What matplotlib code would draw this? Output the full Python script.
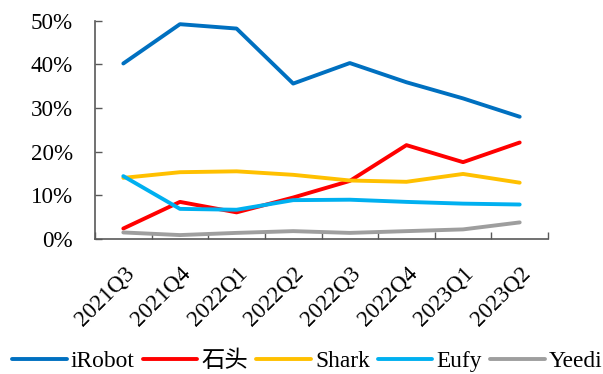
import matplotlib
matplotlib.use("Agg")
import matplotlib.pyplot as plt
import numpy as np
from matplotlib.ticker import FuncFormatter

quarters = ["2021Q3", "2021Q4", "2022Q1", "2022Q2", "2022Q3", "2022Q4", "2023Q1", "2023Q2"]
irobot = [40.2, 49.2, 48.2, 35.6, 40.3, 35.9, 32.2, 28.0]
shitou = [2.4, 8.5, 6.1, 9.5, 13.3, 21.5, 17.6, 22.1]
shark = [14.0, 15.3, 15.5, 14.7, 13.4, 13.1, 14.9, 12.9]
eufy = [14.4, 6.9, 6.7, 8.9, 9.0, 8.5, 8.1, 7.9]
yeedi = [1.5, 0.9, 1.4, 1.8, 1.4, 1.8, 2.2, 3.8]

series_names = ["iRobot", "石头", "Shark", "Eufy", "Yeedi"]
series_vals = [irobot, shitou, shark, eufy, yeedi]
colors = ["#0070C0", "#FF0000", "#FFC000", "#00B0F0", "#9E9E9E"]

plt.rcParams['font.family'] = ['Liberation Serif', 'Noto Sans CJK SC', 'DejaVu Sans']
FS = 16.6
LFS = 16.8

W, H = 603, 374
fig = plt.figure(figsize=(W / 100, H / 100), dpi=100)
ax = fig.add_axes([95 / W, 1 - 239 / H, (548 - 95) / W, (239 - 20.7) / H])

x = np.arange(len(quarters))
for name, vals, c in zip(series_names, series_vals, colors):
    ax.plot(x, np.array(vals) / 100, color=c, lw=2.8, label=name,
            solid_capstyle='round', solid_joinstyle='round')

ax.set_xlim(-0.5, len(quarters) - 0.5)
ax.set_ylim(0, 0.5)
ax.set_yticks(np.arange(0, 0.51, 0.1))
ax.yaxis.set_major_formatter(FuncFormatter(lambda v, p: f"{v*100:.0f}%"))

ax.set_xticks(np.arange(-0.5, len(quarters), 1.0))
ax.set_xticklabels([])
ax.set_xticks(x, minor=True)
ax.set_xticklabels(quarters, minor=True, rotation=45, ha='right', va='top',
                   rotation_mode='anchor', fontsize=FS)
ax.tick_params(axis='x', which='minor', length=0, pad=17)
ax.tick_params(axis='x', which='major', direction='in', length=4.8, width=1.0, color='#595959')
ax.tick_params(axis='y', direction='in', length=4.8, width=1.0, color='#595959',
               labelsize=FS, pad=16)

for s in ['top', 'right']:
    ax.spines[s].set_visible(False)
for s in ['left', 'bottom']:
    ax.spines[s].set_color('#595959')
    ax.spines[s].set_linewidth(1.2)

fig.legend(loc='center left', bbox_to_anchor=(12 / W, 1 - 361 / H), ncol=5,
           frameon=False, fontsize=LFS, handlelength=2.35, handletextpad=0.17,
           columnspacing=0.34, borderpad=0, borderaxespad=0)

fig.savefig("out.png", dpi=100)
